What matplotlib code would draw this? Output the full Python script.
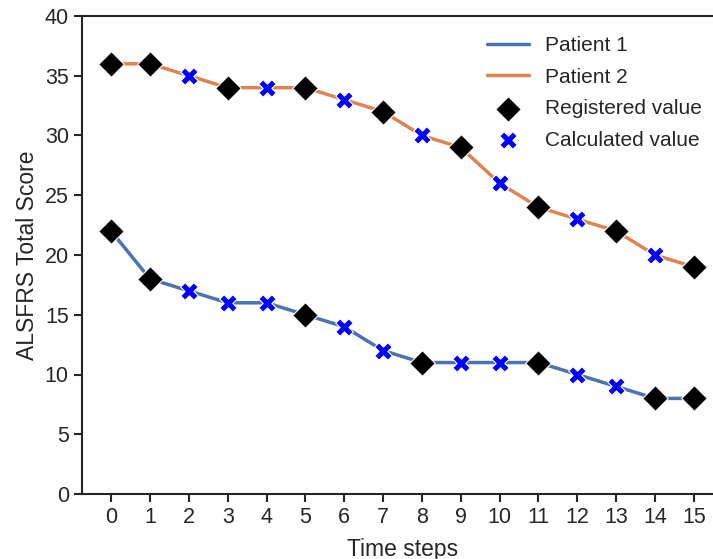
import matplotlib
matplotlib.use("Agg")
import matplotlib.pyplot as plt
import seaborn as sns

steps = list(range(16))
patient1 = [22, 18, 17, 16, 16, 15, 14, 12, 11, 11, 11, 11, 10, 9, 8, 8]
patient2 = [36, 36, 35, 34, 34, 34, 33, 32, 30, 29, 26, 24, 23, 22, 20, 19]
registered1 = [0, 1, 5, 8, 11, 14, 15]
registered2 = [0, 1, 3, 5, 7, 9, 11, 13, 15]

sns.set_theme(style="ticks")
plt.rcParams['font.family'] = ['Liberation Sans', 'DejaVu Sans']

blue, orange = sns.color_palette("deep")[:2]

fig = plt.figure(figsize=(7.13, 5.59), dpi=100)
ax = fig.add_axes([82 / 713, 65 / 559, 641 / 713, 478 / 559])

ax.plot(steps, patient1, color=blue, linewidth=2.5, label="Patient 1", zorder=2)
ax.plot(steps, patient2, color=orange, linewidth=2.5, label="Patient 2", zorder=2)

reg_x, reg_y, calc_x, calc_y = [], [], [], []
for vals, reg in [(patient1, registered1), (patient2, registered2)]:
    for s, v in zip(steps, vals):
        if s in reg:
            reg_x.append(s); reg_y.append(v)
        else:
            calc_x.append(s); calc_y.append(v)

ax.scatter(reg_x, reg_y, marker="D", s=170, color="black", edgecolor="white",
           linewidth=0.8, label="Registered value", zorder=3)
ax.scatter(calc_x, calc_y, marker="X", s=160, color="blue", edgecolor="white",
           linewidth=0.8, label="Calculated value", zorder=3)

ax.set_xlim(-0.75, 15.75)
ax.set_ylim(0, 40)
ax.set_xticks(steps)
ax.set_yticks(range(0, 41, 5))
ax.tick_params(labelsize=15.5, length=6, width=1.5, colors="#262626")
for sp in ax.spines.values():
    sp.set_linewidth(1.5)
    sp.set_color("#262626")
ax.set_xlabel("Time steps", fontsize=16.5, color="#262626", labelpad=7)
ax.set_ylabel("ALSFRS Total Score", fontsize=16.5, color="#262626")
ax.legend(loc="upper right", frameon=False, fontsize=15,
          bbox_to_anchor=(0.997, 0.997), labelspacing=0.6)

fig.savefig("out.png", dpi=100)
